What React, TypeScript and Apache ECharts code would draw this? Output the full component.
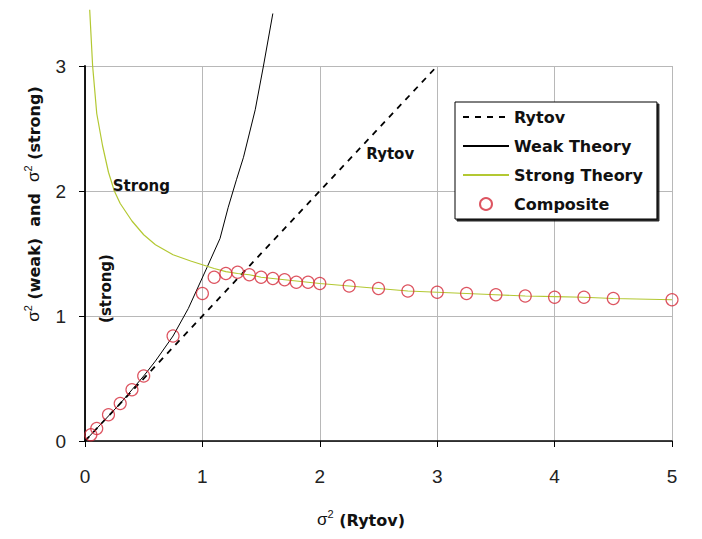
import React, { useEffect, useRef } from "react";
import * as echarts from "echarts";

const xTicks = [0, 1, 2, 3, 4, 5];
const yTicks = [0, 1, 2, 3];

const rytovX = [0, 3];
const rytovY = [0, 3];

const weakX = [0, 0.1, 0.2, 0.3, 0.4, 0.5, 0.6, 0.75, 0.88, 1.04, 1.15, 1.22, 1.29, 1.35, 1.45, 1.52, 1.6];
const weakY = [0, 0.1, 0.2, 0.3, 0.41, 0.52, 0.64, 0.84, 1.06, 1.39, 1.62, 1.87, 2.09, 2.27, 2.65, 3.0, 3.42];

const strongX = [0.04, 0.065, 0.1, 0.15, 0.2, 0.25, 0.3, 0.4, 0.5, 0.6, 0.75, 0.9, 1.0, 1.1, 1.2, 1.3, 1.4, 1.5, 1.6, 1.7, 1.8, 1.9, 2.0, 2.25, 2.5, 2.75, 3.0, 3.25, 3.5, 3.75, 4.0, 4.25, 4.5, 5.0];
const strongY = [3.45, 3.0, 2.62, 2.36, 2.15, 2.0, 1.9, 1.76, 1.65, 1.57, 1.49, 1.44, 1.41, 1.38, 1.355, 1.34, 1.33, 1.31, 1.3, 1.29, 1.28, 1.27, 1.26, 1.24, 1.22, 1.2, 1.19, 1.18, 1.17, 1.16, 1.155, 1.15, 1.14, 1.13];

const compX = [0.05, 0.1, 0.2, 0.3, 0.4, 0.5, 0.75, 1.0, 1.1, 1.2, 1.3, 1.4, 1.5, 1.6, 1.7, 1.8, 1.9, 2.0, 2.25, 2.5, 2.75, 3.0, 3.25, 3.5, 3.75, 4.0, 4.25, 4.5, 5.0];
const compY = [0.05, 0.1, 0.21, 0.3, 0.41, 0.52, 0.84, 1.18, 1.31, 1.34, 1.35, 1.33, 1.31, 1.3, 1.29, 1.27, 1.27, 1.26, 1.24, 1.22, 1.2, 1.19, 1.18, 1.17, 1.16, 1.15, 1.15, 1.14, 1.13];

const seriesNames = ["Rytov", "Weak Theory", "Strong Theory", "Composite"];

// annotation texts and their data positions
const annotTexts = ["Rytov", "Strong", "(strong)"];
const annotX = [2.6, 0.48, 0.18];
const annotY = [2.3, 2.04, 1.22];
const annotRot = [0, 0, 90];

const zip = (xs: number[], ys: number[]) => xs.map((x, i) => [x, ys[i]]);

const BOLD = "'DejaVu Sans', 'Liberation Sans', Arial, sans-serif";
const REG = "'Liberation Sans', Arial, sans-serif";

export default function App() {
  const ref = useRef<HTMLDivElement>(null);
  useEffect(() => {
    if (!ref.current) return;
    const chart = echarts.init(ref.current, null, { renderer: "svg" });
    const option: any = {
      animation: false,
      backgroundColor: "#ffffff",
      grid: { left: 85, right: 30, top: 66, bottom: 98, containLabel: false },
      xAxis: {
        type: "value",
        min: xTicks[0],
        max: xTicks[xTicks.length - 1],
        interval: 1,
        axisLine: { show: true, onZero: false, lineStyle: { color: "#000", width: 1.6 } },
        axisTick: { show: true, inside: false, length: 6, lineStyle: { color: "#000", width: 1 } },
        axisLabel: { margin: 26, fontSize: 19, color: "#222", fontFamily: REG },
        splitLine: { show: true, lineStyle: { color: "#b8b8b8", width: 1 } },
      },
      yAxis: {
        type: "value",
        min: yTicks[0],
        max: yTicks[yTicks.length - 1],
        interval: 1,
        axisLine: { show: true, onZero: false, lineStyle: { color: "#000", width: 1.8 } },
        axisTick: { show: true, inside: false, length: 6, lineStyle: { color: "#000", width: 1 } },
        axisLabel: { margin: 19, fontSize: 19, color: "#222", fontFamily: REG },
        splitLine: { show: true, lineStyle: { color: "#b8b8b8", width: 1 } },
      },
      legend: {
        orient: "vertical",
        left: 455,
        top: 102,
        data: [
          { name: seriesNames[0], itemStyle: { opacity: 0 } },
          { name: seriesNames[1], itemStyle: { opacity: 0 } },
          { name: seriesNames[2], itemStyle: { opacity: 0 } },
          { name: seriesNames[3] },
        ],
        itemWidth: 46,
        itemHeight: 12,
        itemGap: 13,
        padding: [7, 14, 7, 7],
        backgroundColor: "#ffffff",
        borderColor: "#000",
        borderWidth: 1,
        borderRadius: 0,
        shadowColor: "rgba(0,0,0,0.85)",
        shadowBlur: 0,
        shadowOffsetX: 2,
        shadowOffsetY: 2,
        textStyle: { fontSize: 16, fontWeight: "bold", color: "#111", fontFamily: BOLD },
      },
      series: [
        {
          name: seriesNames[0],
          type: "line",
          data: zip(rytovX, rytovY),
          symbol: "none",
          clip: false,
          lineStyle: { color: "#000", width: 1.8, type: [6, 6] },
          itemStyle: { color: "#000" },
          z: 3,
        },
        {
          name: seriesNames[1],
          type: "line",
          data: zip(weakX, weakY),
          symbol: "none",
          clip: false,
          lineStyle: { color: "#000", width: 1 },
          itemStyle: { color: "#000" },
          z: 3,
        },
        {
          name: seriesNames[2],
          type: "line",
          data: zip(strongX, strongY),
          symbol: "none",
          clip: false,
          lineStyle: { color: "#b3c832", width: 1.2 },
          itemStyle: { color: "#b3c832" },
          z: 3,
        },
        {
          name: seriesNames[3],
          type: "scatter",
          data: zip(compX, compY),
          symbol: "circle",
          symbolSize: 12,
          clip: false,
          itemStyle: { color: "rgba(255,255,255,0)", borderColor: "#d42a3a", borderWidth: 1.2 },
          z: 4,
        },
      ],
    };
    chart.setOption(option);

    const annots = annotTexts.map((t, i) => {
      const p = chart.convertToPixel({ gridIndex: 0 }, [annotX[i], annotY[i]]) as number[];
      return {
        type: "text",
        x: p[0],
        y: p[1],
        rotation: (annotRot[i] * Math.PI) / 180,
        style: {
          text: t,
          align: "center",
          verticalAlign: "middle",
          fontSize: 15,
          fontWeight: "bold",
          fontFamily: BOLD,
          fill: "#111",
        },
        z: 10,
      };
    });

    const supRich = {
      s: { fontSize: 17, fontFamily: REG, fill: "#111", lineHeight: 20, verticalAlign: "bottom" },
      sup: { fontSize: 11, fontFamily: REG, fill: "#111", lineHeight: 20, verticalAlign: "top" },
      b: { fontSize: 16, fontWeight: "bold", fontFamily: BOLD, fill: "#111", lineHeight: 20, verticalAlign: "bottom" },
    };

    chart.setOption({
      graphic: [
        ...annots,
        {
          type: "text",
          x: 361,
          y: 518,
          style: {
            text: "{s|σ}{sup|2}{b| (Rytov)}",
            rich: supRich,
            align: "center",
            verticalAlign: "middle",
          },
        },
        {
          type: "text",
          x: 32,
          y: 204,
          rotation: Math.PI / 2,
          style: {
            text: "{s|σ}{sup|2}{b| (weak)  and  }{s|σ}{sup|2}{b| (strong)}",
            rich: supRich,
            align: "center",
            verticalAlign: "middle",
          },
        },
      ],
    });

    return () => chart.dispose();
  }, []);
  return (
    <div
      ref={ref}
      style={{ position: "fixed", left: 0, top: 0, width: 702, height: 539, background: "#fff" }}
    />
  );
}
